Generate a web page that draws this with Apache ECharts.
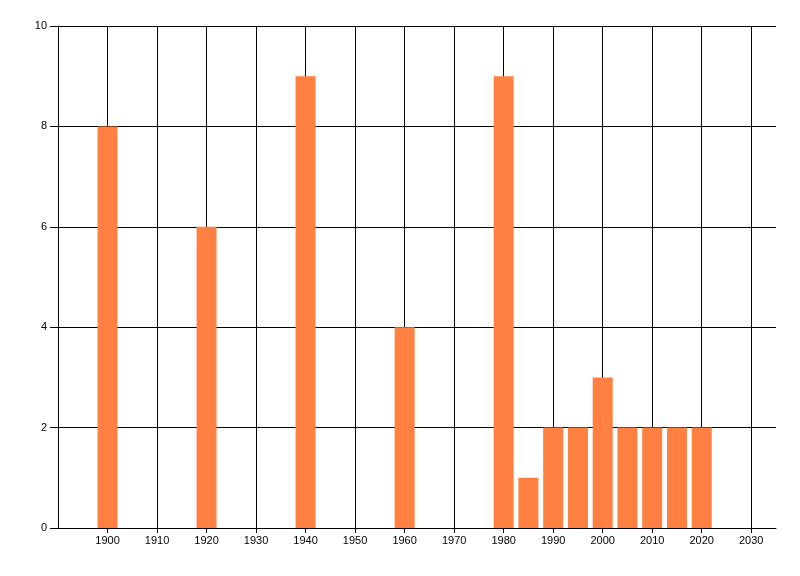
<!DOCTYPE html>
<html>
<head>
    <meta charset="UTF-8">
    <title>chart</title>
    <style>
        html, body {
            margin: 0;
            height: 100%;
            background-color: #FFF;
        }
    </style>
</head>
<body>
<div id="main" style="width:800px;height:576px"></div>

<script src="https://cdn.jsdelivr.net/npm/echarts@6/dist/echarts.min.js"></script>
<script type="text/javascript">
    var years = [1900, 1920, 1940, 1960, 1980, 1985, 1990, 1995, 2000, 2005, 2010, 2015, 2020];
    var counts = [8, 6, 9, 4, 9, 1, 2, 2, 3, 2, 2, 2, 2];

    var labelFont = {
        color: '#000',
        fontFamily: 'Liberation Sans, Arial, sans-serif',
        fontSize: 11
    };
    var blackLine = {color: '#000', width: 1};

    var mCharts = echarts.init(document.getElementById('main'));

    var mOptions = {
        animation: false,
        grid: {
            left: 58,
            right: 24,
            top: 26,
            bottom: 48,
            containLabel: false
        },
        xAxis: {
            type: 'value',
            min: 1890,
            max: 2035,
            interval: 10,
            axisLine: {show: true, lineStyle: blackLine},
            axisTick: {show: true, length: 5, lineStyle: blackLine},
            axisLabel: Object.assign({
                margin: 7,
                showMinLabel: false,
                showMaxLabel: false,
                formatter: function (v) {
                    return String(v);
                }
            }, labelFont),
            splitLine: {
                show: true,
                showMinLine: false,
                showMaxLine: false,
                lineStyle: blackLine
            }
        },
        yAxis: {
            type: 'value',
            min: 0,
            max: 10,
            interval: 2,
            axisLine: {show: true, lineStyle: blackLine},
            axisTick: {show: true, length: 8, lineStyle: blackLine},
            axisLabel: Object.assign({margin: 11}, labelFont),
            splitLine: {show: true, lineStyle: blackLine}
        },
        series: [{
            type: 'bar',
            barWidth: 20,
            itemStyle: {color: '#FF8040'},
            data: years.map(function (y, i) {
                return [y, counts[i]];
            })
        }]
    };

    mCharts.setOption(mOptions);
</script>
</body>
</html>
